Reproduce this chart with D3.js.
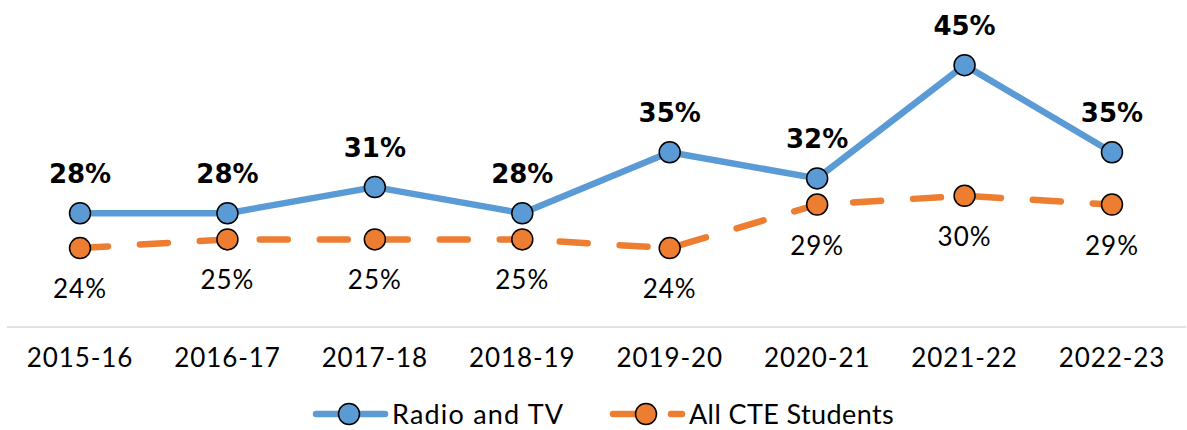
<!DOCTYPE html>
<meta charset="utf-8" />
<script src="https://d3js.org/d3.v7.js"></script>
<style>
	body { margin: 0; background: #fff; }
	text { font-family: Lato, "DejaVu Sans", sans-serif; fill: #000; }
	.lbl-bold { font-family: "DejaVu Sans", sans-serif; font-weight: bold; }
</style>
<div id="chart"></div>
<script>
	// data
	const years = ["2015-16", "2016-17", "2017-18", "2018-19", "2019-20", "2020-21", "2021-22", "2022-23"];
	const radioTV = [28, 28, 31, 28, 35, 32, 45, 35];
	const allCTE = [24, 25, 25, 25, 24, 29, 30, 29];
	const seriesNames = ["Radio and TV", "All CTE Students"];

	const W = 1187, H = 430;
	const plot = { left: 6.3, right: 1185.7, top: 21.6, bottom: 326.5 };

	const svg = d3.select("#chart").append("svg")
		.attr("width", W).attr("height", H);

	const x = d3.scaleBand().domain(years).range([plot.left, plot.right]);
	const y = d3.scaleLinear().domain([15, 50]).range([plot.bottom, plot.top]);
	const cx = d => x(d) + x.bandwidth() / 2;

	// x axis
	const xAxis = svg.append("g")
		.attr("transform", "translate(0," + plot.bottom + ")")
		.call(d3.axisBottom(x).tickSize(0).tickPadding(22));
	xAxis.select(".domain").attr("stroke", "#d9d9d9").attr("stroke-width", 1.5);
	xAxis.selectAll("text")
		.style("font-size", "26px")
		.style("letter-spacing", "0.9px")
		.style("font-family", "Lato, sans-serif");

	const line = d3.line().x((d, i) => cx(years[i])).y(d => y(d));

	const series = [
		{ name: seriesNames[0], values: radioTV, color: "#5b9bd5", dash: null, spacing: 1.2 },
		{ name: seriesNames[1], values: allCTE, color: "#ed7d31", dash: "28,32", spacing: 0.4 }
	];

	// draw orange first so blue sits on top
	series.slice().reverse().forEach(s => {
		svg.append("path")
			.datum(s.values)
			.attr("fill", "none")
			.attr("stroke", s.color)
			.attr("stroke-width", 6.5)
			.attr("stroke-linecap", "round")
			.attr("stroke-linejoin", "round")
			.attr("stroke-dasharray", s.dash)
			.attr("d", line);
		svg.append("g").selectAll("circle")
			.data(s.values)
			.enter().append("circle")
			.attr("cx", (d, i) => cx(years[i]))
			.attr("cy", d => y(d))
			.attr("r", 10.5)
			.attr("fill", s.color)
			.attr("stroke", "#000")
			.attr("stroke-width", 1.5);
	});

	// labels
	svg.append("g").selectAll("text")
		.data(radioTV).enter().append("text")
		.attr("class", "lbl-bold")
		.attr("x", (d, i) => cx(years[i]))
		.attr("y", d => y(d) - 30)
		.attr("text-anchor", "middle")
		.style("font-size", "26px")
		.text(d => d + "%");

	svg.append("g").selectAll("text")
		.data(allCTE).enter().append("text")
		.attr("x", (d, i) => cx(years[i]))
		.attr("y", d => y(d) + 50)
		.attr("text-anchor", "middle")
		.style("font-size", "26px")
		.style("letter-spacing", "1px")
		.text(d => d + "%");

	// legend
	const legend = svg.append("g").attr("transform", "translate(0,414)");
	const lx = [316, 613];
	series.forEach((s, i) => {
		const g = legend.append("g").attr("transform", "translate(" + lx[i] + ",0)");
		g.append("line")
			.attr("x1", 0).attr("x2", 69).attr("y1", 0).attr("y2", 0)
			.attr("stroke", s.color).attr("stroke-width", 6.5)
			.attr("stroke-linecap", "round")
			.attr("stroke-dasharray", s.dash ? "40,18" : null);
		g.append("circle")
			.attr("cx", 33).attr("cy", 0).attr("r", 10.5)
			.attr("fill", s.color).attr("stroke", "#000").attr("stroke-width", 1.5);
		g.append("text")
			.attr("x", 76).attr("y", 10)
			.style("font-size", "27px")
			.style("letter-spacing", s.spacing + "px")
			.text(s.name);
	});
</script>
